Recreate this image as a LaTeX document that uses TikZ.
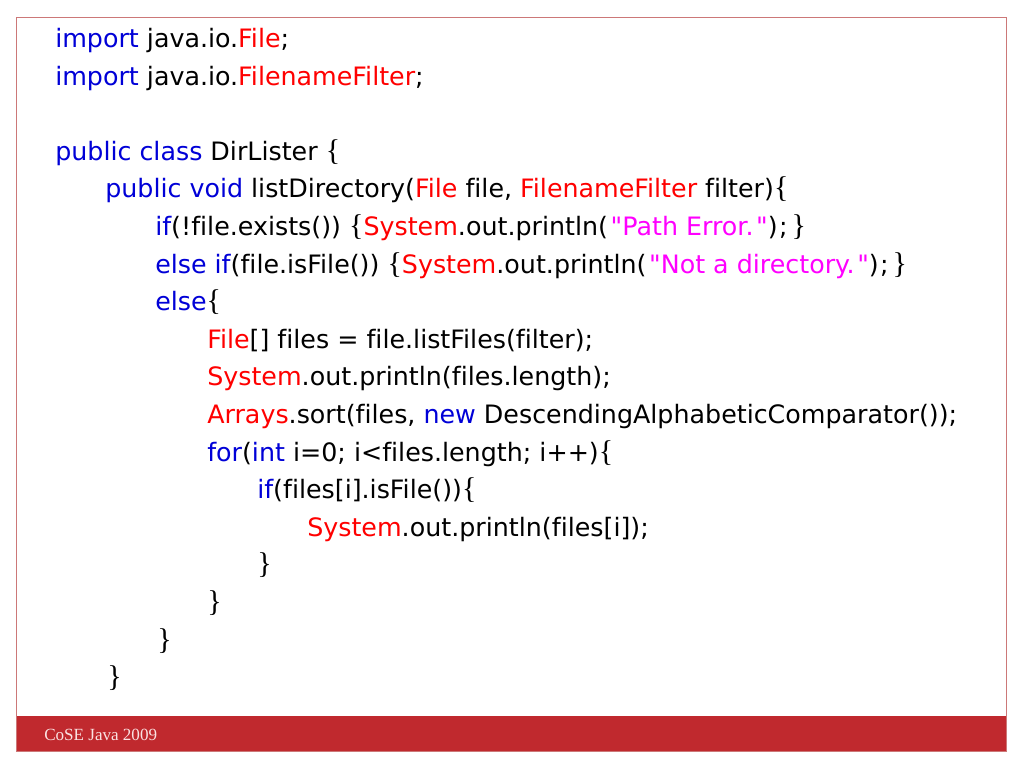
\documentclass[tikz,border=0pt]{standalone}
\usepackage{fontspec}
\usepackage{xcolor}
\newfontfamily\codefont{DejaVu Sans}[Ligatures=CommonOff]
\newfontfamily\bracefont{Liberation Serif}
\newfontfamily\footfont{Liberation Serif}

\definecolor{kwblue}{RGB}{0,0,215}
\definecolor{tyred}{RGB}{255,0,0}
\definecolor{strmag}{RGB}{255,0,255}
\definecolor{barred}{RGB}{192,41,46}
\definecolor{framered}{RGB}{204,120,120}
\definecolor{foottext}{RGB}{250,226,226}

\newcommand{\kw}[1]{\textcolor{kwblue}{#1}}
\newcommand{\ty}[1]{\textcolor{tyred}{#1}}
\newcommand{\strg}[1]{\textcolor{strmag}{#1}}
\newcommand{\lb}{{\bracefont\fontsize{22.5}{22}\selectfont\{}}
\newcommand{\rb}{{\bracefont\fontsize{22.5}{22}\selectfont\}}}

\tikzset{
  codeline/.style={anchor=base west, inner sep=0pt, font=\codefont\fontsize{19}{22}\selectfont},
  footline/.style={anchor=base west, inner sep=0pt, text=foottext, font=\footfont\fontsize{12.8}{15}\selectfont}
}

\begin{document}
\begin{tikzpicture}[x=0.75pt,y=0.75pt,yscale=-1,xscale=1]
\useasboundingbox (0,0) rectangle (1024,768);

%Shape: Rectangle (footer bar)
\fill [barred] (16,716) rectangle (1006,751) ;
%Shape: Rectangle (frame)
\draw [color=framered, line width=0.75] (16,17) rectangle (1006,751) ;

% Text Node
\node (imp1) [codeline] at (55,47.5) {\kw{import} java.io.\ty{File};};
% Text Node
\node (imp2) [codeline] at (55,85.1) {\kw{import} java.io.\ty{FilenameFilter};};
% Text Node
\node (cls) [codeline] at (55,160.3) {\kw{public class} DirLister \lb};
% Text Node
\node (meth) [codeline] at (105,197.9) {\kw{public void} listDirectory(\ty{File} file, \ty{FilenameFilter} filter)\lb};
% Text Node
\node (ifex) [codeline] at (155,235.5) {\kw{if}(!file.exists()) \lb\ty{System}.out.println(\kern2pt\strg{"Path Error.\kern2pt"})\kern1pt;\kern3pt\rb};
% Text Node
\node (elif) [codeline] at (155,273.1) {\kw{else if}(file.isFile()) \lb\ty{System}.out.println(\kern2pt\strg{"Not a directory.\kern2pt"})\kern1pt;\kern3pt\rb};
% Text Node
\node (els) [codeline] at (155,310.7) {\kw{else}\lb};
% Text Node
\node (arr) [codeline] at (207,348.3) {\ty{File}[] files = file.listFiles(filter);};
% Text Node
\node (len) [codeline] at (207,385.9) {\ty{System}.out.println(files.length);};
% Text Node
\node (sort) [codeline] at (207,423.5) {\ty{Arrays}.sort(files, \kw{new} DescendingAlphabeticComparator());};
% Text Node
\node (loop) [codeline] at (207,461.1) {\kw{for}(\kw{int} i=0; i<files.length; i++)\lb};
% Text Node
\node (iff) [codeline] at (257,498.7) {\kw{if}(files[i].isFile())\lb};
% Text Node
\node (prn) [codeline] at (307,536.3) {\ty{System}.out.println(files[i]);};
% Text Node
\node (cl1) [codeline] at (257,573.9) {\rb};
% Text Node
\node (cl2) [codeline] at (207,611.5) {\rb};
% Text Node
\node (cl3) [codeline] at (157,649.1) {\rb};
% Text Node
\node (cl4) [codeline] at (107,686.7) {\rb};

% Text Node
\node (foot) [footline] at (44,740) {CoSE Java 2009};

\end{tikzpicture}
\end{document}
